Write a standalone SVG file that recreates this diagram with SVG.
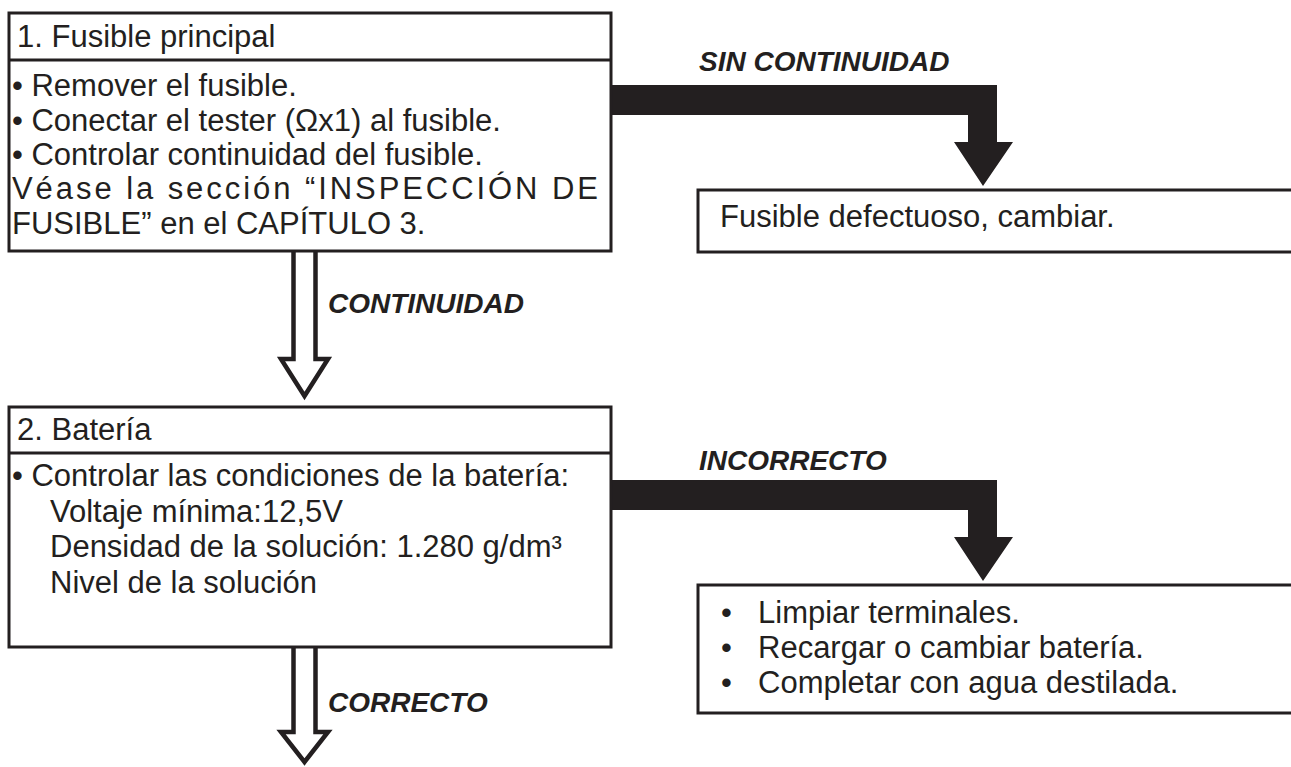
<svg xmlns="http://www.w3.org/2000/svg" width="1291" height="767" viewBox="0 0 1291 767">
<style>
  .box { fill: #ffffff; stroke: #231f20; stroke-width: 3; }
  .div { stroke: #231f20; stroke-width: 3; }
  .t { font-family: "Liberation Sans", Arial, sans-serif; font-size: 31px; fill: #231f20; }
  .lbl { font-family: "Liberation Sans", Arial, sans-serif; font-size: 28px; font-weight: bold; font-style: italic; fill: #231f20; }
  .solid { fill: #231f20; stroke: none; }
  .hollow { fill: #ffffff; stroke: #231f20; stroke-width: 4.5; stroke-linejoin: miter; }
</style>
<rect x="0" y="0" width="1291" height="767" fill="#ffffff"/>

<g id="connectors">
  <path class="hollow" d="M293.5 251 V359 H281 L304.5 396 L328 359 H315.5 V251"/>
  <path class="hollow" d="M293.5 647 V732 H281 L304.5 762 L328 732 H315.5 V647"/>
  <path class="solid" d="M608 85 H997 V142 H1013 L983 186 L954 142 H968 V115 H608 Z"/>
  <path class="solid" d="M608 480 H997 V537 H1013 L983 581 L954 537 H968 V510 H608 Z"/>
  <text class="lbl" x="699" y="71">SIN CONTINUIDAD</text>
  <text class="lbl" x="328" y="313">CONTINUIDAD</text>
  <text class="lbl" x="699" y="470">INCORRECTO</text>
  <text class="lbl" x="328" y="712">CORRECTO</text>
</g>

<g id="node-fusible-principal">
  <rect class="box" x="9" y="13" width="602" height="238"/>
  <line class="div" x1="9" y1="60" x2="611" y2="60"/>
  <text class="t" x="17" y="47">1. Fusible principal</text>
  <text class="t" x="12" y="96">• Remover el fusible.</text>
  <text class="t" x="12" y="130.5">• Conectar el tester (Ωx1) al fusible.</text>
  <text class="t" x="12" y="165">• Controlar continuidad del fusible.</text>
  <text class="t" x="12" y="199" textLength="586" lengthAdjust="spacing">Véase la sección “INSPECCIÓN DE</text>
  <text class="t" x="12" y="233.5">FUSIBLE” en el CAPÍTULO 3.</text>
</g>

<g id="node-fusible-defectuoso">
  <rect class="box" x="698" y="190" width="610" height="62"/>
  <text class="t" x="720" y="227">Fusible defectuoso, cambiar.</text>
</g>

<g id="node-bateria">
  <rect class="box" x="9" y="407" width="602" height="240"/>
  <line class="div" x1="9" y1="453" x2="611" y2="453"/>
  <text class="t" x="17" y="440">2. Batería</text>
  <text class="t" x="12" y="486">• Controlar las condiciones de la batería:</text>
  <text class="t" x="50" y="522">Voltaje mínima:12,5V</text>
  <text class="t" x="50" y="557">Densidad de la solución: 1.280 g/dm³</text>
  <text class="t" x="50" y="593">Nivel de la solución</text>
</g>

<g id="node-bateria-acciones">
  <rect class="box" x="698" y="585" width="610" height="128"/>
  <text class="t" x="721" y="623">•</text>
  <text class="t" x="758" y="623">Limpiar terminales.</text>
  <text class="t" x="721" y="658">•</text>
  <text class="t" x="758" y="658">Recargar o cambiar batería.</text>
  <text class="t" x="721" y="693">•</text>
  <text class="t" x="758" y="693">Completar con agua destilada.</text>
</g>
</svg>
